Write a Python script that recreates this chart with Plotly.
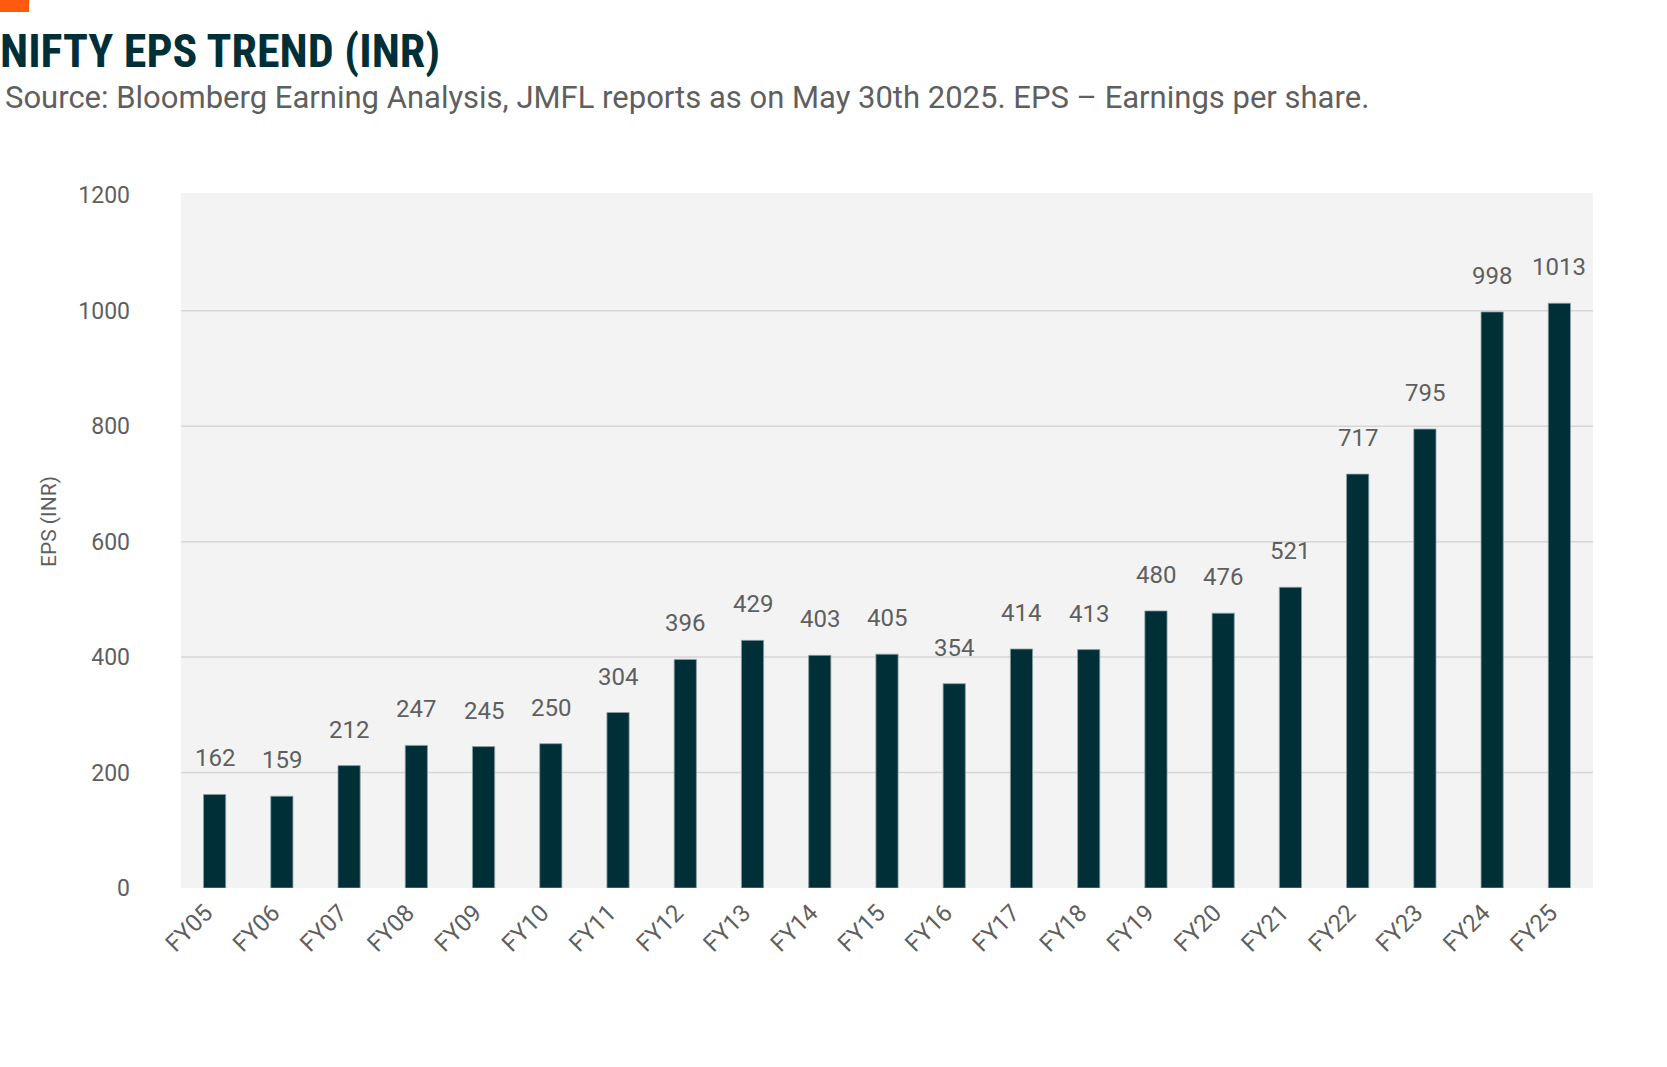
import plotly.graph_objects as go

# Dados do gráfico
years = ["FY05", "FY06", "FY07", "FY08", "FY09", "FY10", "FY11", "FY12", "FY13", "FY14",
         "FY15", "FY16", "FY17", "FY18", "FY19", "FY20", "FY21", "FY22", "FY23", "FY24", "FY25"]
eps = [162, 159, 212, 247, 245, 250, 304, 396, 429, 403,
       405, 354, 414, 413, 480, 476, 521, 717, 795, 998, 1013]
y_ticks = [0, 200, 400, 600, 800, 1000, 1200]

DARK = "#002f37"
GREY = "#5f5f5f"
FONT = "Roboto"

fig = go.Figure()

fig.add_trace(go.Bar(
    x=years,
    y=eps,
    marker=dict(color=DARK, line=dict(color="#8aa0a4", width=0.8)),
    width=0.33,
))

# rótulos de valor acima das barras
labels = [dict(x=yr, y=v, text=str(v), xref="x", yref="y", yanchor="bottom",
               yshift=20, showarrow=False, font=dict(family=FONT, size=24, color=GREY))
          for yr, v in zip(years, eps)]

# linhas de grade (sem a linha do topo)
grid = [dict(type="line", xref="paper", yref="y", x0=0, x1=1, y0=t, y1=t,
             line=dict(color="#d6d6d6", width=1.5), layer="below")
        for t in y_ticks[1:-1]]

fig.update_layout(
    width=1667,
    height=1067,
    margin=dict(l=181, r=74, t=193, b=179),
    paper_bgcolor="white",
    plot_bgcolor="#f3f3f3",
    showlegend=False,
    font=dict(family=FONT, color=GREY),
    title=dict(
        text="<b>NIFTY EPS TREND (INR)</b>",
        font=dict(family="Roboto Condensed, Liberation Sans Narrow, DejaVu Sans Condensed, Roboto",
                  size=46, color=DARK),
        x=0, xref="container", xanchor="left",
        y=0.967, yref="container", yanchor="top",
    ),
    annotations=labels + [
        dict(
            text="Source: Bloomberg Earning Analysis, JMFL reports as on May 30th 2025. EPS – Earnings per share.",
            xref="paper", yref="paper", x=-0.126, y=1.137, xanchor="left", yanchor="middle",
            showarrow=False, font=dict(family=FONT, size=31, color=GREY),
        ),
        dict(
            text="EPS (INR)", textangle=-90,
            xref="paper", yref="paper", x=-0.094, y=0.527, xanchor="center", yanchor="middle",
            showarrow=False, font=dict(family=FONT, size=21, color=GREY),
        ),
    ],
    shapes=grid + [dict(
        type="rect", xref="paper", yref="paper",
        x0=-0.135, x1=-0.1076, y0=1.2604, y1=1.29,
        fillcolor="#ff5a10", line=dict(width=0),
    )],
)

fig.update_xaxes(
    tickangle=-45,
    tickfont=dict(size=24, color=GREY),
    showgrid=False,
    showline=False,
    ticks="",
    ticklabelshift=-9,
    ticklabelstandoff=5,
)

fig.update_yaxes(
    range=[0, 1204],
    tickvals=y_ticks,
    tickfont=dict(size=23, color=GREY),
    showgrid=False,
    zeroline=False,
    ticks="",
    ticklabelstandoff=50,
)

fig.write_html("out.html", config={"displayModeBar": False},
               post_script="document.body.style.margin='0';")
